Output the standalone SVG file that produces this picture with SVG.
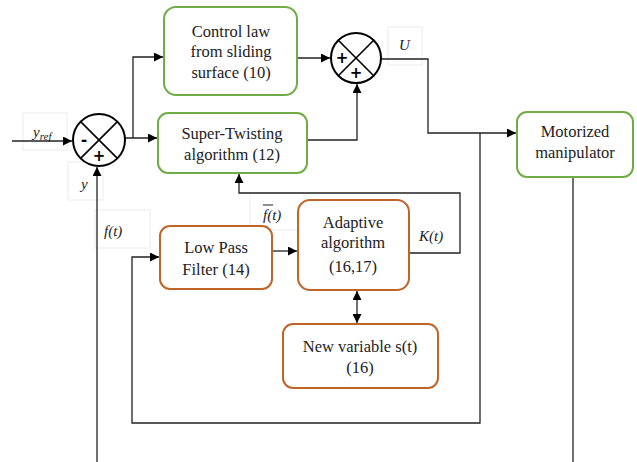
<svg xmlns="http://www.w3.org/2000/svg" width="637" height="462" viewBox="0 0 637 462">
<style>
.g{fill:#fff;stroke:#70AD47;stroke-width:2}
.o{fill:#fff;stroke:#C0652A;stroke-width:2}
.tx{font-family:'Liberation Serif','DejaVu Serif',serif;font-size:16.5px;fill:#222;text-anchor:middle}
.it{font-family:'Liberation Serif','DejaVu Serif',serif;font-size:15px;font-style:italic;fill:#222}
.c{fill:none;stroke:#222;stroke-width:1.3}
.lb{fill:none;stroke:#ececec;stroke-width:1}
.sum{fill:#fff;stroke:#000;stroke-width:2}
.sg{font-family:'DejaVu Sans','Liberation Sans',sans-serif;font-weight:bold;font-size:15px;fill:#000;text-anchor:middle}
</style>
<defs>
<marker id="ah" viewBox="0 0 10 10" refX="10" refY="5" markerWidth="9" markerHeight="9" markerUnits="userSpaceOnUse" orient="auto-start-reverse">
<path d="M0,0 L10,5 L0,10 z" fill="#000"/>
</marker>
</defs>
<rect width="637" height="462" fill="#fff"/>
<g id="label-boxes">
<rect class="lb" x="23" y="113" width="44" height="37"/>
<rect class="lb" x="68" y="162" width="35" height="38"/>
<rect class="lb" x="95" y="210" width="55" height="38"/>
<rect class="lb" x="250" y="193" width="54" height="37"/>
<rect class="lb" x="388" y="27" width="34" height="38"/>
</g>
<g id="connectors">
<path class="c" d="M12,141 H72" marker-end="url(#ah)"/>
<path class="c" d="M124,138 H157" marker-end="url(#ah)"/>
<path class="c" d="M133,138 V57 H163" marker-end="url(#ah)"/>
<path class="c" d="M297,58 H330" marker-end="url(#ah)"/>
<path class="c" d="M307,140 H357 V84" marker-end="url(#ah)"/>
<path class="c" d="M381,59 H428 V133 H516" marker-end="url(#ah)"/>
<path class="c" d="M480,133 V423 H132 V257 H159" marker-end="url(#ah)"/>
<path class="c" d="M272,251 H297" marker-end="url(#ah)"/>
<path class="c" d="M409,253 H460 V193 H239 V174" marker-end="url(#ah)"/>
<path class="c" d="M357,291 V323" marker-start="url(#ah)" marker-end="url(#ah)"/>
<path class="c" d="M573,177 V462"/>
<path class="c" d="M97,462 V167" marker-end="url(#ah)"/>
</g>
<g id="sum1">
<circle class="sum" cx="99" cy="140" r="26"/>
<path d="M80.6,121.6 L117.4,158.4 M117.4,121.6 L80.6,158.4" stroke="#000" stroke-width="1.6"/>
<text class="sg" x="84" y="145" font-size="17">-</text>
<text class="sg" x="99" y="161">+</text>
</g>
<g id="sum2">
<circle class="sum" cx="356" cy="58" r="25"/>
<path d="M338.3,40.3 L373.7,75.7 M373.7,40.3 L338.3,75.7" stroke="#000" stroke-width="1.6"/>
<text class="sg" x="342" y="63">+</text>
<text class="sg" x="356" y="78">+</text>
</g>
<g id="control-law" font-family="'Liberation Serif', serif">
<rect class="g" x="164" y="7" width="133" height="88" rx="12"/>
<text class="tx" x="231" y="37">Control law</text>
<text class="tx" x="231" y="57">from sliding</text>
<text class="tx" x="231" y="78">surface (10)</text>
</g>
<g id="super-twisting">
<rect class="g" x="158" y="113" width="149" height="60" rx="10"/>
<text class="tx" x="232" y="139">Super-Twisting</text>
<text class="tx" x="232" y="160">algorithm (12)</text>
</g>
<g id="motorized-manipulator">
<rect class="g" x="517" y="112" width="116" height="65" rx="10"/>
<text class="tx" x="575" y="137">Motorized</text>
<text class="tx" x="575" y="158">manipulator</text>
</g>
<g id="low-pass-filter">
<rect class="o" x="160" y="226" width="112" height="63" rx="10"/>
<text class="tx" x="216" y="253">Low Pass</text>
<text class="tx" x="216" y="275">Filter (14)</text>
</g>
<g id="adaptive-algorithm">
<rect class="o" x="298" y="200" width="111" height="90" rx="12"/>
<text class="tx" x="353" y="228">Adaptive</text>
<text class="tx" x="353" y="248">algorithm</text>
<text class="tx" x="353" y="272">(16,17)</text>
</g>
<g id="new-variable">
<rect class="o" x="283" y="324" width="155" height="64" rx="10"/>
<text class="tx" x="360" y="352">New variable s(t)</text>
<text class="tx" x="360" y="373">(16)</text>
</g>
<g id="labels">
<text class="it" x="33" y="137">y<tspan font-size="11" dy="3">ref</tspan></text>
<text class="it" x="81" y="189">y</text>
<text class="it" x="104" y="236">f(t)</text>
<text class="it" x="399" y="50">U</text>
<text class="it" x="419" y="241">K(t)</text>
<text class="it" x="263" y="220" font-size="16">f(t)</text>
<line x1="263" y1="205" x2="273" y2="205" stroke="#222" stroke-width="1"/>
</g>
</svg>
